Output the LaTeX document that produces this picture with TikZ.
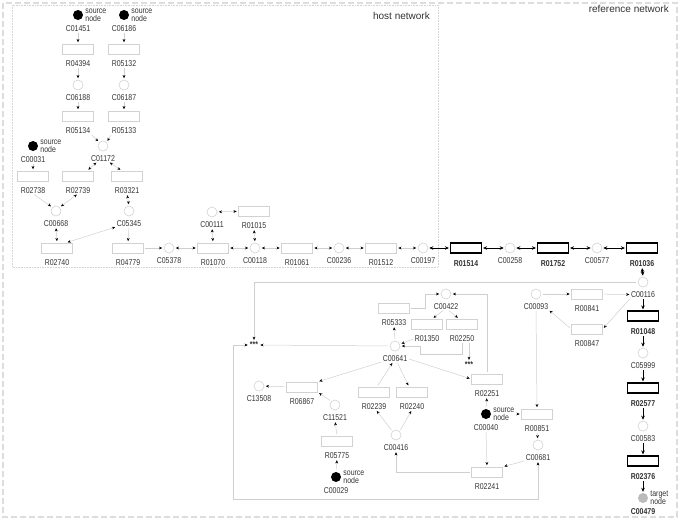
\documentclass[tikz,border=0pt]{standalone}
\usepackage{fontspec}
\setmainfont{Liberation Sans}
\newfontfamily\lblfont[FakeStretch=0.82]{Liberation Sans}
\usetikzlibrary{arrows.meta}
\definecolor{nodeg}{HTML}{D2D2D2}
\definecolor{lineg}{HTML}{CFCFCF}
\definecolor{txtc}{HTML}{333333}
\definecolor{framec}{HTML}{DDDDDD}
\definecolor{tgtc}{HTML}{BBBBBB}
\newcommand\lblsz{\fontsize{8.5}{8}\selectfont}
\tikzset{
  every label/.style={inner sep=0pt, font=\lblfont\lblsz, text=txtc},
  circ/.style={circle, draw=nodeg, minimum size=10pt, inner sep=0pt, line width=0.6pt},
  rbox/.style={rectangle, draw=nodeg, minimum width=31pt, minimum height=10pt, inner sep=0pt, line width=0.6pt},
  refbox/.style={rectangle, draw=black, line width=1.2pt, minimum width=31pt, minimum height=10pt, inner sep=0pt},
  srcn/.style={circle, fill=black, minimum size=10pt, inner sep=0pt},
  tgtn/.style={circle, fill=tgtc, minimum size=10pt, inner sep=0pt},
  lc/.style={label={[name=l#1, yshift=-4pt]below:#1}},
  lr/.style={label={[name=l#1, yshift=-6pt]below:#1}},
  ls/.style={label={[name=l#1, yshift=-5pt]below:#1}},
  lrb/.style={label={[name=l#1, yshift=-7pt, font=\lblfont\bfseries\lblsz]below:#1}},
  ltb/.style={label={[name=l#1, yshift=-5pt, font=\lblfont\bfseries\lblsz]below:#1}},
  srct/.style={label={[name=s#1, align=left, xshift=2pt]right:source\\node}},
  tgtt/.style={label={[name=t#1, align=left, xshift=2pt]right:target\\node}},
  hl/.style={draw=lineg, line width=0.5pt, shorten >=1.5pt, shorten <=1.5pt},
  ha/.style={hl, -{Stealth[length=3.2pt,width=2.8pt,color=black]}},
  hb/.style={hl, {Stealth[length=3.2pt,width=2.8pt,color=black]}-{Stealth[length=3.2pt,width=2.8pt,color=black]}},
  rl/.style={draw=black, line width=1pt, shorten >=1pt, shorten <=1pt},
  ra/.style={rl, -{Stealth[length=4pt,width=3.6pt]}},
  rb/.style={rl, {Stealth[length=4pt,width=3.6pt]}-{Stealth[length=4pt,width=3.6pt]}},
  stars/.style={inner sep=0.5pt, font=\lblfont\bfseries\lblsz, text=txtc},
  title/.style={inner sep=0pt, font=\fontsize{10}{12}\selectfont, text=txtc}
}
\begin{document}
\begin{tikzpicture}[x=1pt,y=-1pt]
\useasboundingbox (0,0) rectangle (680,520);
% frames
\draw[framec, line width=1.5pt, dash pattern=on 6pt off 3pt] (3,3) rectangle (677,517);
\draw[nodeg, line width=0.6pt, densely dotted] (12.5,5) rectangle (438,267);
\node[title, anchor=base east] (tref) at (669,12.5) {reference network};
\node[title, anchor=base east] (thost) at (430,19) {host network};

% host network nodes
\node[srcn, ls=C01451, srct=C01451] (C01451) at (78,15) {};
\node[srcn, ls=C06186, srct=C06186] (C06186) at (124,15) {};
\node[rbox, lr=R04394] (R04394) at (78,49) {};
\node[rbox, lr=R05132] (R05132) at (124,49) {};
\node[circ, lc=C06188] (C06188) at (78,85) {};
\node[circ, lc=C06187] (C06187) at (124,85) {};
\node[rbox, lr=R05134] (R05134) at (78,116) {};
\node[rbox, lr=R05133] (R05133) at (124,116) {};
\node[circ, lc=C01172] (C01172) at (103,146) {};
\node[srcn, ls=C00031, srct=C00031] (C00031) at (33,146) {};
\node[rbox, lr=R02738] (R02738) at (33,176) {};
\node[rbox, lr=R02739] (R02739) at (78,176) {};
\node[rbox, lr=R03321] (R03321) at (127,176) {};
\node[circ, lc=C00668] (C00668) at (56,211) {};
\node[circ, lc=C05345] (C05345) at (129,211) {};
\node[rbox, lr=R02740] (R02740) at (57,248) {};
\node[rbox, lr=R04779] (R04779) at (128,248) {};
\node[circ, lc=C05378] (C05378) at (169,248) {};
\node[rbox, lr=R01070] (R01070) at (213,248) {};
\node[circ, lc=C00111] (C00111) at (212,212) {};
\node[rbox, lr=R01015] (R01015) at (254,211) {};
\node[circ, lc=C00118] (C00118) at (255,248) {};
\node[rbox, lr=R01061] (R01061) at (297,248) {};
\node[circ, lc=C00236] (C00236) at (339,248) {};
\node[rbox, lr=R01512] (R01512) at (381,248) {};
\node[circ, lc=C00197] (C00197) at (423,248) {};

% reference path
\node[refbox, lrb=R01514] (R01514) at (466,248) {};
\node[circ, lc=C00258] (C00258) at (510,248) {};
\node[refbox, lrb=R01752] (R01752) at (553,248) {};
\node[circ, lc=C00577] (C00577) at (597,248) {};
\node[refbox, lrb=R01036] (R01036) at (642,248) {};
\node[circ, lc=C00116] (C00116) at (643,282) {};
\node[refbox, lrb=R01048] (R01048) at (643,316) {};
\node[circ, lc=C05999] (C05999) at (643,353) {};
\node[refbox, lrb=R02577] (R02577) at (643,388) {};
\node[circ, lc=C00583] (C00583) at (643,426) {};
\node[refbox, lrb=R02376] (R02376) at (643,461) {};
\node[tgtn, ltb=C00479, tgtt=C00479] (C00479) at (643,498) {};

% lower part
\node[circ, lc=C00093] (C00093) at (536,294) {};
\node[rbox, lr=R00841] (R00841) at (587,294) {};
\node[rbox, lr=R00847] (R00847) at (587,329) {};
\node[rbox, lr=R00851] (R00851) at (537,414) {};
\node[circ, lc=C00681] (C00681) at (538,445) {};
\node[rbox, lr=R02241] (R02241) at (487,472) {};
\node[srcn, ls=C00040, srct=C00040] (C00040) at (486,414) {};
\node[rbox, lr=R02251] (R02251) at (487,379) {};
\node[circ, lc=C00422] (C00422) at (446,294) {};
\node[rbox, lr=R05333] (R05333) at (394,308) {};
\node[rbox, lr=R01350] (R01350) at (427,324) {};
\node[rbox, lr=R02250] (R02250) at (462,324) {};
\node[circ, lc=C00641] (C00641) at (395,346) {};
\node[stars] (star2) at (469,365) {***};
\node[stars] (star1) at (254,345) {***};
\node[circ, lc=C13508] (C13508) at (259,386) {};
\node[rbox, lr=R06867] (R06867) at (302,387) {};
\node[circ, lc=C11521] (C11521) at (335,405) {};
\node[rbox, lr=R05775] (R05775) at (337,441) {};
\node[srcn, ls=C00029, srct=C00029] (C00029) at (336,477) {};
\node[rbox, lr=R02239] (R02239) at (374,392) {};
\node[rbox, lr=R02240] (R02240) at (412,392) {};
\node[circ, lc=C00416] (C00416) at (396,435) {};

% host edges
\draw[ha] (lC01451.south) -- (R04394.north);
\draw[ha] (lR04394.south) -- (C06188.north);
\draw[ha] (lC06188.south) -- (R05134.north);
\draw[ha] (lR05134.south east) -- (C01172.north west);
\draw[ha] (lC06186.south) -- (R05132.north);
\draw[ha] (lR05132.south) -- (C06187.north);
\draw[ha] (lC06187.south) -- (R05133.north);
\draw[ha] (lR05133.south west) -- (C01172.north east);
\draw[ha] (lC00031.south) -- (R02738.north);
\draw[hb] (lC01172.-150) -- (R02739.30);
\draw[hb] (lC01172.-30) -- (R03321.135);
\draw[ha] (lR02738.south) -- (C00668.north west);
\draw[hb] (lR02739.south) -- (C00668.north east);
\draw[hb] (lR03321.south) -- (C05345.north);
\draw[hb] (lC00668.south) -- (R02740.north);
\draw[hb] (lC05345.south west) -- (R02740.30);
\draw[ha] (lC05345.south) -- (R04779.north);
\draw[ha] (R04779) -- (C05378);
\draw[hb] (C05378) -- (R01070);
\draw[hb] (lC00111.south) -- (R01070.north);
\draw[hb] (C00111) -- (R01015);
\draw[hb] (lR01015.south) -- (C00118.north);
\draw[hb] (R01070) -- (C00118);
\draw[hb] (C00118) -- (R01061);
\draw[hb] (R01061) -- (C00236);
\draw[hb] (C00236) -- (R01512);
\draw[hb] (R01512) -- (C00197);

% reference edges
\draw[rb] (C00197) -- (R01514);
\draw[rb] (R01514) -- (C00258);
\draw[rb] (C00258) -- (R01752);
\draw[rb] (R01752) -- (C00577);
\draw[rb] (C00577) -- (R01036);
\draw[rb] (lR01036.south) -- (C00116.north);
\draw[ra] (lC00116.south) -- (R01048.north);
\draw[ra] (lR01048.south) -- (C05999.north);
\draw[ra] (lC05999.south) -- (R02577.north);
\draw[ra] (lR02577.south) -- (C00583.north);
\draw[ra] (lC00583.south) -- (R02376.north);
\draw[ra] (lR02376.south) -- (C00479.north);

% lower edges
\draw[ha] (C00116.west) -| (star1.north);
\draw[ha] (C00093) -- (R00841);
\draw[ha] (R00841) -- (lC00116.west);
\draw[ha] (lC00116.south west) -- (R00847.east);
\draw[ha] (R00847.west) -- (lC00093.south east);
\draw[ha] (lC00093.south) -- (R00851.north);
\draw[ha] (sC00040.east) -- (R00851.west);
\draw[ha] (C00040.north) -- (lR02251.south);
\draw[ha] (lC00040.south) -- (R02241.north);
\draw[ha] (lR00851.south) -- (C00681.north);
\draw[ha] (lC00681.south west) -- (R02241.north east);
\draw[hb] (lC00681.south) |- (233,499) |- (star1.west);
\draw[ha] (R02241.west) -| (lC00416.south);
\draw[ha] (C00416.north west) -- (lR02239.-60);
\draw[ha] (C00416.north east) -- (lR02240.south);
\draw[ha] (R02239.60) -- (lC00641.-120);
\draw[ha] (lC00641.-60) -- (R02240.120);
\draw[ha] (lC00641.east) -- (R02251.west);
\draw[ha] (lC00641.south west) -- (R06867.north east);
\draw[ha] (C11521.north west) -- (R06867.south east);
\draw[ha] (R06867) -- (C13508);
\draw[ha] (R05775.north) -- (lC11521.south);
\draw[ha] (C00029.north) -- (lR05775.south);
\draw[ha] (C00641.north) -- (lR05333.south);
\draw[ha] (lR01350.west) -- (C00641.20);
\draw[ha] (lR02250.south) |- (420,354) |- (C00641.east);
\draw[ha] (star2.north |- lR02250.south) -- (star2.north);
\draw[ha] (lC00422.-120) -- (R01350.45);
\draw[ha] (lC00422.-60) -- (R02250.120);
\draw[ha] (R05333.east) -- (425,308) |- (C00422.west);
\draw[ha] (R02251.north) |- (C00422.east);
\draw[ha] (C00641.west) -- (star1.east);
\end{tikzpicture}
\end{document}
